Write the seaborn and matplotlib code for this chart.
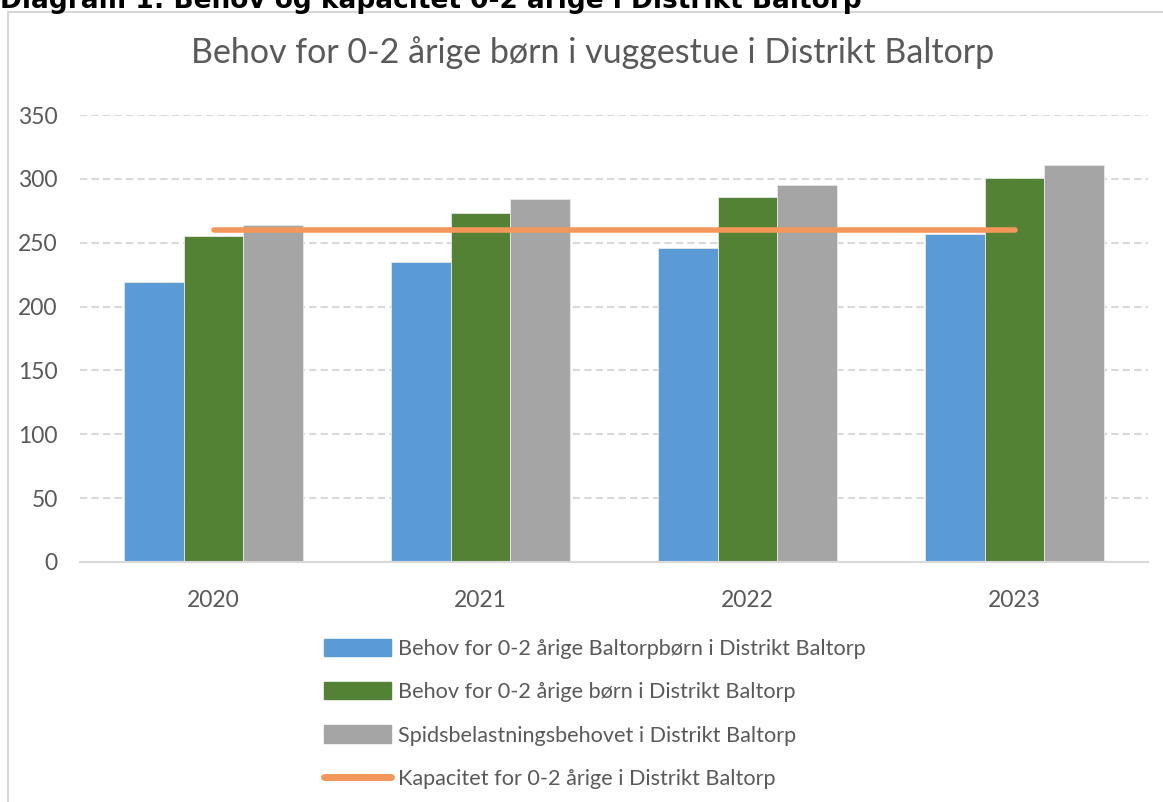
import numpy as np
import pandas as pd
import seaborn as sns
from matplotlib import pyplot as plt
from matplotlib import patches as mpatches
from matplotlib.lines import Line2D

sns.set_theme(style="white")
plt.rcParams["font.family"] = ["Lato", "DejaVu Sans"]

YEARS = ["2020", "2021", "2022", "2023"]
SERIES = [
    "Behov for 0-2 årige Baltorpbørn i Distrikt Baltorp",
    "Behov for 0-2 årige børn i Distrikt Baltorp",
    "Spidsbelastningsbehovet i Distrikt Baltorp",
]
baltorp_born = [219, 235, 246, 257]
alle_born = [255, 273, 286, 301]
spidsbelastning = [264, 284, 295, 311]
kapacitet = [260, 260, 260, 260]
LINE_LABEL = "Kapacitet for 0-2 årige i Distrikt Baltorp"

COLORS = ["#5B9BD5", "#548235", "#A5A5A5"]
ORANGE = "#F4975A"
TEXT = "#595959"
W, H = 1163, 802


def plot_data():
    df = pd.DataFrame({
        "year": YEARS * 3,
        "series": [s for s in SERIES for _ in YEARS],
        "value": baltorp_born + alle_born + spidsbelastning,
    })

    fig = plt.figure(figsize=(W / 100, H / 100), dpi=100)
    ax = fig.add_axes([80 / W, 1 - 562 / H, (1148 - 80) / W, (562 - 115) / H])

    sns.barplot(data=df, x="year", y="value", hue="series", hue_order=SERIES,
                palette=COLORS, width=0.674, gap=0, saturation=1, legend=False,
                edgecolor="#E8E8E8", linewidth=0.6, ax=ax)
    sns.pointplot(x=YEARS, y=kapacitet, color=ORANGE, marker="", linewidth=4,
                  errorbar=None, ax=ax)
    for line in ax.lines:
        line.set_solid_capstyle("round")

    ax.set_xlim(-0.5, 3.5)
    ax.set_ylim(0, 350)
    ax.set_yticks(range(0, 351, 50))
    ax.set(xlabel="", ylabel="")
    ax.grid(axis="y", color="#D9D9D9", linestyle=(0, (3.5, 2)), linewidth=1.5)
    ax.set_axisbelow(True)
    for side in ["top", "right", "left"]:
        ax.spines[side].set_visible(False)
    ax.spines["bottom"].set_color("#D9D9D9")
    ax.spines["bottom"].set_linewidth(1.5)
    ax.tick_params(axis="both", length=0, labelsize=16.5, labelcolor=TEXT)
    ax.tick_params(axis="y", pad=16)
    ax.tick_params(axis="x", pad=20)

    # chart frame
    fig.patches.append(mpatches.Rectangle((8 / W, -0.1), 1.2, 1 - 12 / H + 0.1,
                                          transform=fig.transFigure, fill=False,
                                          edgecolor="#D0D0D0", linewidth=1.2))

    fig.text(0.0, 1 - 8 / H, "Diagram 1: Behov og kapacitet 0-2 årige i Distrikt Baltorp",
             family=["DejaVu Sans"], fontweight="bold", fontsize=19, color="black",
             ha="left", va="baseline")
    fig.text(593 / W, 1 - 63 / H, "Behov for 0-2 årige børn i vuggestue i Distrikt Baltorp",
             fontsize=24.5, color=TEXT, ha="center", va="baseline")

    handles = [mpatches.Patch(color=c) for c in COLORS]
    handles.append(Line2D([], [], color=ORANGE, linewidth=5, solid_capstyle="round"))
    fig.legend(handles, SERIES + [LINE_LABEL], loc="upper left",
               bbox_to_anchor=(305 / W, 1 - 619 / H), frameon=False,
               fontsize=15.6, labelcolor=TEXT, handlelength=3.05, handleheight=0.84,
               handletextpad=0.32, labelspacing=1.08)

    fig.savefig("out.png", dpi=100)


def main():
    plot_data()


if __name__ == "__main__":
    main()
